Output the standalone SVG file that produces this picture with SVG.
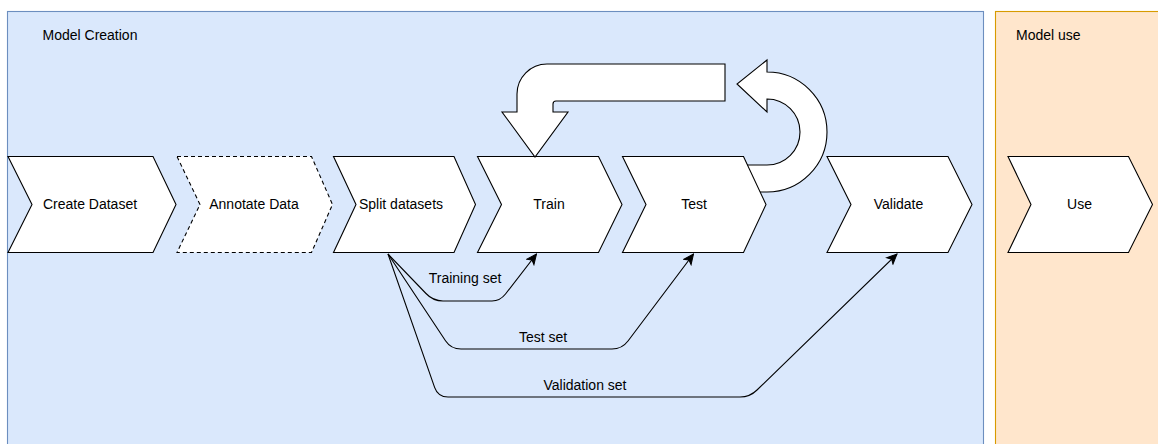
<svg xmlns="http://www.w3.org/2000/svg" width="1158" height="444" viewBox="0 0 1158 444">
  <style>
    .lbl { font-family: "Liberation Sans", Arial, sans-serif; font-size: 14px; fill: #000; }
    .mid { text-anchor: middle; }
    .step { fill: #fff; stroke: #000; stroke-width: 1.1; stroke-linejoin: miter; }
    .dash { stroke-dasharray: 4 3; }
    .bigarrow { fill: #fff; stroke: #000; stroke-width: 1.1; stroke-linejoin: miter; }
    .edge { fill: none; stroke: #000; stroke-width: 1.1; }
  </style>
  <defs>
    <marker id="arr" markerUnits="userSpaceOnUse" markerWidth="12" markerHeight="12" viewBox="0 0 12 12" refX="11" refY="6" orient="auto">
      <path d="M1,1.5 L11,6 L1,10.5 L3.5,6 Z" fill="#000" stroke="#000" stroke-width="1"/>
    </marker>
  </defs>

  <g id="container-model-creation">
    <rect x="7.5" y="11.5" width="976" height="445" fill="#dae8fc" stroke="#6c8ebf" stroke-width="1.1"/>
    <text class="lbl" x="42.5" y="40">Model Creation</text>
  </g>
  <g id="container-model-use">
    <rect x="995.5" y="11.5" width="175" height="445" fill="#ffe6cc" stroke="#d79b00" stroke-width="1.1"/>
    <text class="lbl" x="1016" y="40">Model use</text>
  </g>

  <g id="node-create-dataset">
    <polygon class="step" points="8,156.5 153,156.5 176,204.5 153,252.5 8,252.5 32,204.5"/>
    <text class="lbl mid" x="90" y="209">Create Dataset</text>
  </g>
  <g id="node-annotate-data">
    <polygon class="step dash" points="177,156.5 311.5,156.5 332.5,204.5 311.5,252.5 177,252.5 200,204.5"/>
    <text class="lbl mid" x="254" y="209">Annotate Data</text>
  </g>
  <g id="node-split-datasets">
    <polygon class="step" points="333.5,156.5 454,156.5 475.5,204.5 454,252.5 333.5,252.5 356,204.5"/>
    <text class="lbl mid" x="401" y="209">Split datasets</text>
  </g>

  <g id="loop-arrow">
    <path class="bigarrow" d="M767,72 A60,60 0 0 1 767,192 L740,192 L740,165 L767,165 A33,33 0 0 0 767,99 L767,112 L737,84 L767,60 Z"/>
  </g>

  <g id="node-train">
    <polygon class="step" points="477.5,156.5 598.5,156.5 622,204.5 598.5,252.5 477.5,252.5 501.5,204.5"/>
    <text class="lbl mid" x="549" y="209">Train</text>
  </g>
  <g id="node-test">
    <polygon class="step" points="622.5,156.5 743.5,156.5 766,204.5 743.5,252.5 622.5,252.5 646,204.5"/>
    <text class="lbl mid" x="694" y="209">Test</text>
  </g>
  <g id="node-validate">
    <polygon class="step" points="827,156.5 948,156.5 972,204.5 948,252.5 827,252.5 851,204.5"/>
    <text class="lbl mid" x="898.5" y="209">Validate</text>
  </g>
  <g id="node-use">
    <polygon class="step" points="1008,156.5 1128.5,156.5 1152.5,204.5 1128.5,252.5 1008,252.5 1031,204.5"/>
    <text class="lbl mid" x="1079.5" y="209">Use</text>
  </g>

  <g id="feedback-arrow">
    <path class="bigarrow" d="M725,64 L547,64 A30,30 0 0 0 517,94 L517,112 L502,112 L535,157 L568,112 L553,112 L553,104 Q553,101 556,101 L725,101 Z"/>
  </g>

  <g id="connectors">
    <path class="edge" marker-end="url(#arr)" d="M388,254 L426,293.5 Q433,301 443,301 L492,301 Q500,301 505.5,294 L536.5,254"/>
    <path class="edge" marker-end="url(#arr)" d="M388,254 L445.5,340.7 Q451,349 461,349 L612,349 Q622,349 628,341 L693.5,254"/>
    <path class="edge" marker-end="url(#arr)" d="M388,254 L434.7,387.6 Q438,397 448,397 L740,397 Q750,397 757,390 L897,254"/>
    <text class="lbl mid" x="465" y="283">Training set</text>
    <text class="lbl mid" x="543" y="342">Test set</text>
    <text class="lbl mid" x="585" y="390">Validation set</text>
  </g>
</svg>
